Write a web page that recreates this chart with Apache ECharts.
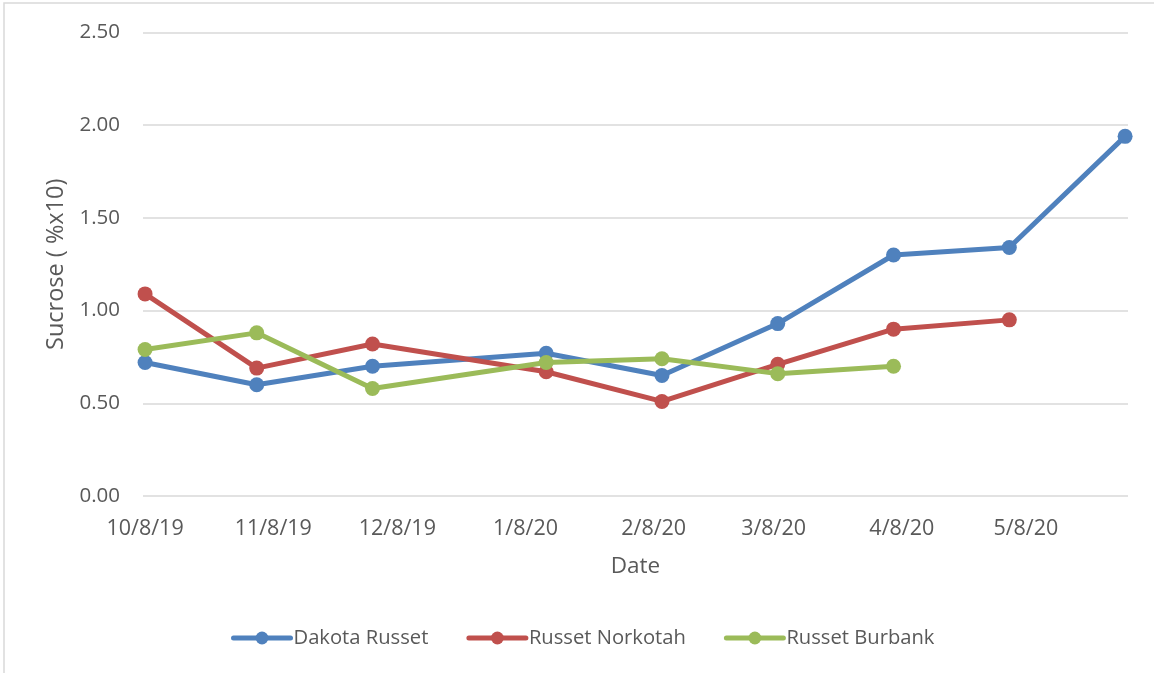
<!DOCTYPE html>
<html>
<head>
<meta charset="utf-8">
<script src="https://cdn.jsdelivr.net/npm/echarts@6/dist/echarts.min.js"></script>
<style>
  html, body { margin: 0; padding: 0; background: #ffffff; }
  #chart { width: 1154px; height: 673px; }
</style>
</head>
<body>
<div id="chart"></div>
<script>
// Sampling dates
const sampleDates = ['2019-10-08', '2019-11-04', '2019-12-02', '2020-01-13', '2020-02-10', '2020-03-09', '2020-04-06', '2020-05-04', '2020-06-01'];
// Series values (Sucrose %x10)
const dakotaRusset   = [0.72, 0.60, 0.70, 0.77, 0.65, 0.93, 1.30, 1.34, 1.94];
const russetNorkotah = [1.09, 0.69, 0.82, 0.67, 0.51, 0.71, 0.90, 0.95, null];
const russetBurbank  = [0.79, 0.88, 0.58, 0.72, 0.74, 0.66, 0.70, null, null];
// X tick labels and their dates
const tickLabels = ['10/8/19', '11/8/19', '12/8/19', '1/8/20', '2/8/20', '3/8/20', '4/8/20', '5/8/20'];
const tickDates  = ['2019-10-08', '2019-11-08', '2019-12-08', '2020-01-08', '2020-02-08', '2020-03-08', '2020-04-08', '2020-05-08'];
// Y tick values
const yTicks = [0, 0.5, 1.0, 1.5, 2.0, 2.5];

const seriesNames = ['Dakota Russet', 'Russet Norkotah', 'Russet Burbank'];
const seriesColors = ['#4F81BD', '#C0504D', '#9BBB59'];

const DAY = 86400000;
const t0 = new Date(sampleDates[0]).getTime();
const dayOf = s => Math.round((new Date(s).getTime() - t0) / DAY);
const sampleDays = sampleDates.map(dayOf);
const tickDays = tickDates.map(dayOf);
const labelByDay = {};
tickDays.forEach((d, i) => { labelByDay[d] = tickLabels[i]; });

const pairs = vals => vals.map((v, i) => [sampleDays[i], v]).filter(p => p[1] !== null);

const FONT = '"Open Sans", sans-serif';
const TXT = '#595959';

const chart = echarts.init(document.getElementById('chart'), null, { renderer: 'canvas' });
chart.setOption({
  backgroundColor: '#ffffff',
  animation: false,
  graphic: [{
    type: 'rect',
    shape: { x: 4, y: 3, width: 1170, height: 700 },
    style: { fill: 'none', stroke: '#d9d9d9', lineWidth: 1.5 },
    silent: true,
    z: -10
  }],
  grid: { left: 143, right: 26, top: 32.5, bottom: 177, containLabel: false },
  xAxis: {
    type: 'value',
    min: -0.5,
    max: sampleDays[sampleDays.length - 1] + 0.7,
    name: 'Date',
    nameLocation: 'middle',
    nameGap: 59,
    nameTextStyle: { color: TXT, fontFamily: FONT, fontSize: 22.5 },
    axisLine: { show: false },
    axisTick: { show: false },
    splitLine: { show: false },
    axisLabel: {
      customValues: tickDays,
      formatter: v => labelByDay[v] !== undefined ? labelByDay[v] : '',
      color: TXT, fontFamily: FONT, fontSize: 21.5, margin: 22
    }
  },
  yAxis: {
    type: 'value',
    min: yTicks[0],
    max: yTicks[yTicks.length - 1],
    interval: 0.5,
    name: 'Sucrose ( %x10)',
    nameLocation: 'middle',
    nameGap: 73,
    nameRotate: 90,
    nameTextStyle: { color: TXT, fontFamily: FONT, fontSize: 23.5 },
    axisLine: { show: false },
    axisTick: { show: false },
    splitLine: { lineStyle: { color: '#d9d9d9', width: 1.5 } },
    axisLabel: {
      formatter: v => v.toFixed(2),
      color: TXT, fontFamily: FONT, fontSize: 20.5, margin: 23
    }
  },
  legend: {
    data: seriesNames,
    top: 623,
    left: 226,
    itemWidth: 57,
    itemHeight: 16,
    itemGap: 38,
    lineStyle: { width: 5 },
    textStyle: { color: TXT, fontFamily: FONT, fontSize: 20.2, padding: [0, 0, 0, -2] }
  },
  series: [dakotaRusset, russetNorkotah, russetBurbank].map((vals, i) => ({
    name: seriesNames[i],
    type: 'line',
    data: pairs(vals),
    color: seriesColors[i],
    symbol: 'circle',
    symbolSize: 15,
    showSymbol: true,
    lineStyle: { width: 5, color: seriesColors[i], cap: 'round', join: 'round' },
    itemStyle: { color: seriesColors[i] },
    clip: false
  }))
});
</script>
</body>
</html>
